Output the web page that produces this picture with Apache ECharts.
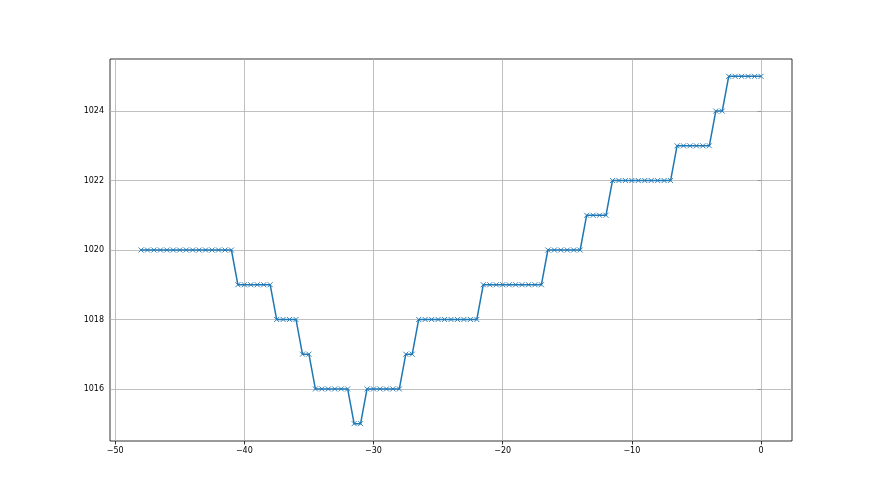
<!DOCTYPE html>
<html>
<head>
<meta charset="utf-8">
<script src="https://cdn.jsdelivr.net/npm/echarts@6/dist/echarts.min.js"></script>
<style>html,body{margin:0;padding:0;background:#fff}#c{width:880px;height:495px}</style>
</head>
<body>
<div id="c"></div>
<script>
var xValues = [-48,-47.5,-47,-46.5,-46,-45.5,-45,-44.5,-44,-43.5,-43,-42.5,-42,-41.5,-41,
  -40.5,-40,-39.5,-39,-38.5,-38,
  -37.5,-37,-36.5,-36,
  -35.5,-35,
  -34.5,-34,-33.5,-33,-32.5,-32,
  -31.5,-31,
  -30.5,-30,-29.5,-29,-28.5,-28,
  -27.5,-27,
  -26.5,-26,-25.5,-25,-24.5,-24,-23.5,-23,-22.5,-22,
  -21.5,-21,-20.5,-20,-19.5,-19,-18.5,-18,-17.5,-17,
  -16.5,-16,-15.5,-15,-14.5,-14,
  -13.5,-13,-12.5,-12,
  -11.5,-11,-10.5,-10,-9.5,-9,-8.5,-8,-7.5,-7,
  -6.5,-6,-5.5,-5,-4.5,-4,
  -3.5,-3,
  -2.5,-2,-1.5,-1,-0.5,0];
var pressure = [1020,1020,1020,1020,1020,1020,1020,1020,1020,1020,1020,1020,1020,1020,1020,
  1019,1019,1019,1019,1019,1019,
  1018,1018,1018,1018,
  1017,1017,
  1016,1016,1016,1016,1016,1016,
  1015,1015,
  1016,1016,1016,1016,1016,1016,
  1017,1017,
  1018,1018,1018,1018,1018,1018,1018,1018,1018,1018,
  1019,1019,1019,1019,1019,1019,1019,1019,1019,1019,
  1020,1020,1020,1020,1020,1020,
  1021,1021,1021,1021,
  1022,1022,1022,1022,1022,1022,1022,1022,1022,1022,
  1023,1023,1023,1023,1023,1023,
  1024,1024,
  1025,1025,1025,1025,1025,1025];
var xTicks = [-50,-40,-30,-20,-10,0];
var yTicks = [1016,1018,1020,1022,1024];

var chart = echarts.init(document.getElementById('c'), null, {renderer:'canvas'});
var data = xValues.map(function(x,i){return [x, pressure[i]];});
var gridColor = '#b0b0b0';
var labelFont = {color:'#000', fontSize:8, fontFamily:'DejaVu Sans'};
chart.setOption({
  animation:false,
  grid:{left:110, right:88, top:59, bottom:54, show:true, borderColor:'#000', borderWidth:0.8, backgroundColor:'transparent'},
  xAxis:{type:'value', min:-50.4, max:2.4,
    axisLine:{show:false},
    axisTick:{show:true, length:3.5, inside:false, customValues:xTicks, lineStyle:{color:'#000', width:0.8}},
    axisLabel:Object.assign({margin:6, customValues:xTicks, formatter:function(v){return v<0?'\u2212'+(-v):String(v);}}, labelFont),
    splitLine:{show:false}
  },
  yAxis:{type:'value', min:1014.5, max:1025.5,
    axisLine:{show:false},
    axisTick:{show:true, length:3.5, inside:false, customValues:yTicks, lineStyle:{color:'#000', width:0.8}},
    axisLabel:Object.assign({margin:6, customValues:yTicks, formatter:function(v){return String(v);}}, labelFont),
    splitLine:{show:false}
  },
  series:[{
    type:'line', data:data, z:3,
    lineStyle:{color:'#1f77b4', width:1.5},
    symbol:'path://M0,0L10,10M10,0L0,10', symbolSize:5,
    showSymbol:true,
    itemStyle:{color:'none', borderColor:'#1f77b4', borderWidth:0.9},
    emphasis:{disabled:true},
    markLine:{silent:true, symbol:'none', animation:false, z:1,
      label:{show:false},
      lineStyle:{color:gridColor, width:0.8, type:'solid'},
      data: xTicks.map(function(v){return {xAxis:v};}).concat(yTicks.map(function(v){return {yAxis:v};}))
    }
  }]
});
</script>
</body>
</html>
